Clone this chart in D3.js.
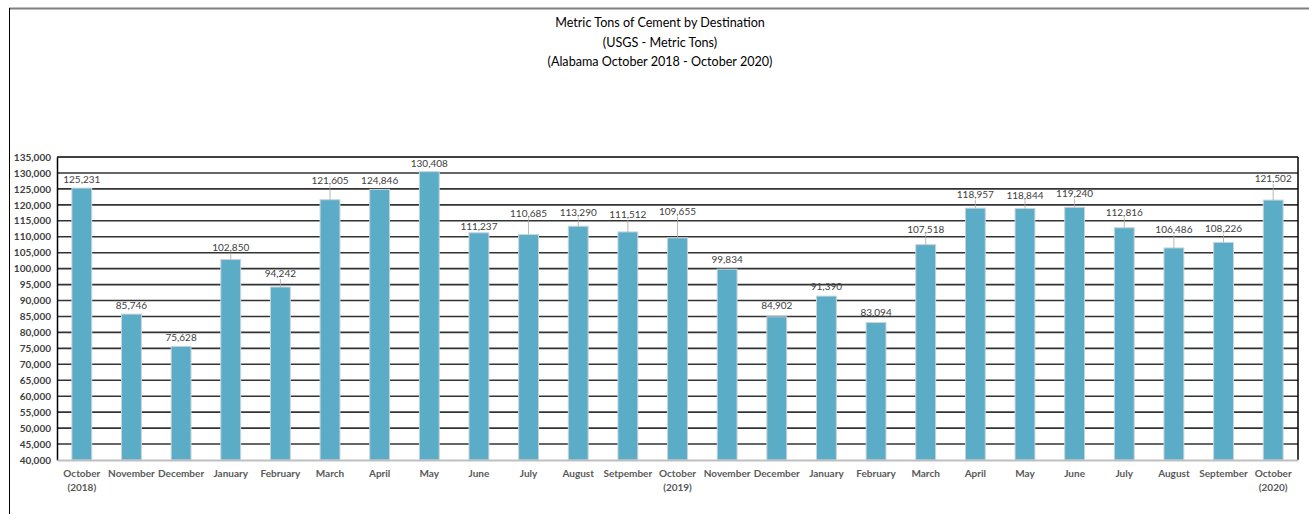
<!DOCTYPE html>
<html>
<head>
<meta charset="utf-8">
<script src="https://cdn.jsdelivr.net/npm/d3@7/dist/d3.min.js"></script>
<style>
  html, body { margin: 0; padding: 0; background: #fff; }
  svg { display: block; }
</style>
</head>
<body>
<svg id="chart" width="1309" height="514"></svg>
<script>
const titleLines = [
  "Metric Tons of Cement by Destination",
  "(USGS - Metric Tons)",
  "(Alabama October 2018 - October 2020)"
];
const categories = [
  "October\n(2018)", "November", "December", "January", "February", "March",
  "April", "May", "June", "July", "August", "Setpember", "October\n(2019)",
  "November", "December", "January", "February", "March", "April", "May",
  "June", "July", "August", "September", "October\n(2020)"
];
const values = [
  125231, 85746, 75628, 102850, 94242, 121605, 124846, 130408, 111237,
  110685, 113290, 111512, 109655, 99834, 84902, 91390, 83094, 107518,
  118957, 118844, 119240, 112816, 106486, 108226, 121502
];
const yTickValues = d3.range(40000, 135001, 5000);
// extra lift (px) of manually moved data labels (Excel leader-line style)
const labelRaise = [0,0,0,4,5,11,0,0,-2,13,5,9,18,1,3,1,2,7,5,5,5,7,10,5,13];

(function () {
const svg = d3.select("#chart");
const font = "Lato, 'Open Sans', sans-serif";

// outer chart frame
svg.append("line").attr("x1", 9).attr("x2", 1309).attr("y1", 8.5).attr("y2", 8.5)
  .attr("stroke", "#808080").attr("stroke-width", 2);
svg.append("line").attr("x1", 9.5).attr("x2", 9.5).attr("y1", 8).attr("y2", 514)
  .attr("stroke", "#000").attr("stroke-width", 1);

// title
svg.append("g").selectAll("text").data(titleLines).join("text")
  .attr("x", 660).attr("y", (d, i) => 27 + i * 19.5)
  .attr("text-anchor", "middle")
  .attr("font-family", font).attr("font-size", 12.6).attr("fill", "#000")
  .text(d => d);

const pLeft = 57, pRight = 1298, pTop = 157, pBottom = 460;
const x = d3.scaleBand().domain(d3.range(categories.length))
  .range([pLeft, pRight]).paddingInner(0.6).paddingOuter(0.3);
const y = d3.scaleLinear().domain([40000, 135000]).range([pBottom, pTop]);

// gridlines
svg.append("g").selectAll("line").data(yTickValues.filter(v => v > 40000)).join("line")
  .attr("x1", pLeft).attr("x2", pRight)
  .attr("y1", d => y(d)).attr("y2", d => y(d))
  .attr("stroke", d => d === 135000 ? "#000" : "#333").attr("stroke-width", d => d === 135000 ? 1.5 : 1.6);

// y axis
const yAxis = d3.axisLeft(y).tickValues(yTickValues).tickSize(0).tickPadding(6)
  .tickFormat(d3.format(","));
const gy = svg.append("g").attr("transform", `translate(${pLeft},0)`).call(yAxis);
gy.select(".domain").attr("stroke", "#000").attr("stroke-width", 1.5);
gy.selectAll("text").attr("font-family", font).attr("font-size", 10)
  .attr("font-weight", "bold").attr("fill", "#404040");

// right border
svg.append("line").attr("x1", pRight).attr("x2", pRight).attr("y1", pTop).attr("y2", pBottom)
  .attr("stroke", "#000").attr("stroke-width", 1.5);

// bars
svg.append("g").selectAll("rect").data(values).join("rect")
  .attr("x", (d, i) => x(i)).attr("width", x.bandwidth())
  .attr("y", d => y(d)).attr("height", d => pBottom - y(d))
  .attr("fill", "#5BACC6").attr("stroke", "#c9d3dc").attr("stroke-width", 1);

// x axis
const xAxis = d3.axisBottom(x).tickSize(0).tickFormat("");
const gx = svg.append("g").attr("transform", `translate(0,${pBottom})`).call(xAxis);
gx.select(".domain").attr("stroke", "#bfbfbf").attr("stroke-width", 2);
const xl = svg.append("g").selectAll("text").data(categories).join("text")
  .attr("x", (d, i) => x(i) + x.bandwidth() / 2).attr("y", pBottom + 17)
  .attr("text-anchor", "middle")
  .attr("font-family", font).attr("font-size", 10).attr("font-weight", "bold")
  .attr("fill", "#595959");
xl.each(function(d) {
  const parts = d.split("\n");
  const self = d3.select(this);
  self.selectAll("tspan").data(parts).join("tspan")
    .attr("x", self.attr("x"))
    .attr("dy", (p, j) => j === 0 ? 0 : 13.5)
    .text(p => p);
});

// data labels with leader lines
const lbl = svg.append("g");
values.forEach((v, i) => {
  const cx = x(i) + x.bandwidth() / 2;
  const by = y(v);
  const ly = by - 5 - labelRaise[i];
  if (labelRaise[i] > 3) {
    lbl.append("line").attr("x1", cx).attr("x2", cx)
      .attr("y1", ly + 2).attr("y2", by)
      .attr("stroke", "#a6a6a6").attr("stroke-width", 0.8);
  }
  lbl.append("text").attr("x", cx).attr("y", ly)
    .attr("text-anchor", "middle")
    .attr("font-family", font).attr("font-size", 10).attr("fill", "#404040")
    .text(d3.format(",")(v));
});
})();
</script>
</body>
</html>
